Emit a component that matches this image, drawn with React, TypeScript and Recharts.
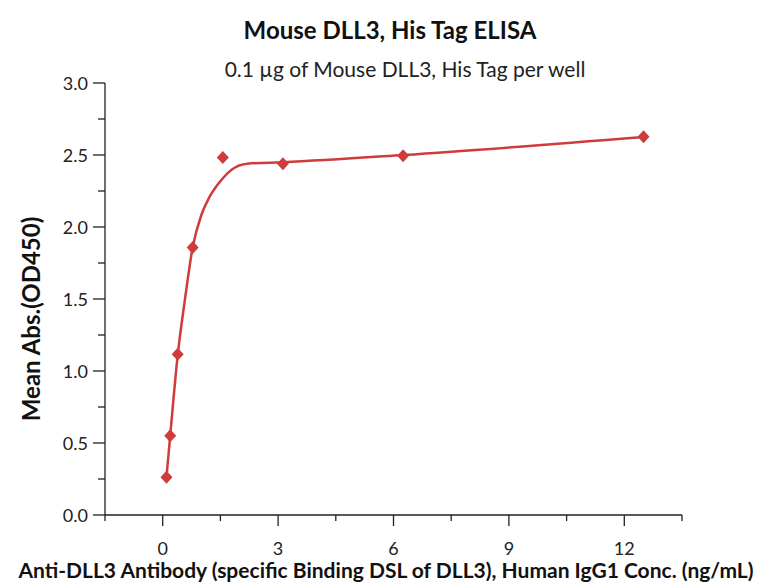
import React from "react";
import { ComposedChart, Line, Scatter, XAxis, YAxis } from "recharts";

// measured points (ng/mL, OD450)
const concs = [0.098, 0.195, 0.39, 0.78, 1.5625, 3.125, 6.25, 12.5];
const absorbance = [0.262, 0.551, 1.117, 1.858, 2.483, 2.439, 2.495, 2.627];

// fitted curve
const fitX = [0.098, 0.195, 0.39, 0.58, 0.78, 1.0, 1.2, 1.46, 1.8, 2.2, 3.125, 6.25, 12.5];
const fitY = [0.262, 0.55, 1.11, 1.5, 1.86, 2.08, 2.2, 2.305, 2.4, 2.44, 2.45, 2.5, 2.625];

const xTicks = [-1.5, 0, 1.5, 3, 4.5, 6, 7.5, 9, 10.5, 12, 13.5];
const xMajor = [0, 3, 6, 9, 12];
const yTicks = [0, 0.25, 0.5, 0.75, 1, 1.25, 1.5, 1.75, 2, 2.25, 2.5, 2.75, 3];
const yMajor = [0, 0.5, 1, 1.5, 2, 2.5, 3];

const RED = "#d03b3b";
const INK = "#222";
const FONT = "Lato, 'DejaVu Sans', sans-serif";

const points = concs.map((x, i) => ({ x, y: absorbance[i] }));
const curve = fitX.map((x, i) => ({ x, y: fitY[i] }));

const XTick = ({ x, y, payload }: any) => {
  const major = xMajor.includes(payload.value);
  return (
    <g>
      <line x1={x} x2={x} y1={y} y2={y + (major ? 11 : 6)} stroke={INK} strokeWidth={1.3} />
      {major && (
        <text x={x} y={y + 40} textAnchor="middle" fontSize={18} fill={INK} fontFamily={FONT}>
          {payload.value}
        </text>
      )}
    </g>
  );
};

const YTick = ({ x, y, payload }: any) => {
  const major = yMajor.includes(payload.value);
  return (
    <g>
      <line x1={x - (major ? 12 : 7)} x2={x} y1={y} y2={y} stroke={INK} strokeWidth={1.3} />
      {major && (
        <text x={x - 17} y={y + 6.5} textAnchor="end" fontSize={18} fill={INK} fontFamily={FONT}>
          {payload.value.toFixed(1)}
        </text>
      )}
    </g>
  );
};

const Diamond = ({ cx, cy }: any) => (
  <polygon
    points={`${cx},${cy - 6.5} ${cx + 6},${cy} ${cx},${cy + 6.5} ${cx - 6},${cy}`}
    fill={RED}
  />
);

export default function App() {
  return (
    <div style={{ position: "absolute", left: 0, top: 0, width: 766, height: 582, background: "#fff" }}>
      <ComposedChart width={766} height={582} margin={{ top: 83, right: 84, bottom: 37, left: 0 }}>
        <XAxis
          type="number"
          dataKey="x"
          domain={[-1.5, 13.5]}
          ticks={xTicks}
          interval={0}
          allowDataOverflow
          height={30}
          tickSize={0}
          tickMargin={0}
          tickLine={false}
          tick={<XTick />}
          axisLine={{ stroke: INK, strokeWidth: 1.3 }}
        />
        <YAxis
          type="number"
          dataKey="y"
          domain={[0, 3]}
          ticks={yTicks}
          interval={0}
          width={105}
          tickSize={0}
          tickMargin={0}
          tickLine={false}
          tick={<YTick />}
          axisLine={{ stroke: INK, strokeWidth: 1.3 }}
        />
        <Line
          data={curve}
          dataKey="y"
          type="monotone"
          stroke={RED}
          strokeWidth={2.5}
          dot={false}
          activeDot={false}
          isAnimationActive={false}
        />
        <Scatter data={points} dataKey="y" fill={RED} shape={<Diamond />} isAnimationActive={false} />
      </ComposedChart>
      <svg
        width={766}
        height={582}
        style={{ position: "absolute", left: 0, top: 0, pointerEvents: "none" }}
        fontFamily={FONT}
      >
        <text x={390} y={39} textAnchor="middle" fontSize={24} fontWeight="bold" fill="#111">
          Mouse DLL3, His Tag ELISA
        </text>
        <text x={405} y={77} textAnchor="middle" fontSize={21} fill="#222">
          0.1 µg of Mouse DLL3, His Tag per well
        </text>
        <text
          x={0}
          y={0}
          transform="translate(30,319) rotate(-90)"
          textAnchor="middle"
          dominantBaseline="central"
          fontSize={24}
          fontWeight="bold"
          fill="#111"
        >
          Mean Abs.(OD450)
        </text>
        <text x={386} y={578} textAnchor="middle" fontSize={21} fontWeight="bold" fill="#111">
          Anti-DLL3 Antibody (specific Binding DSL of DLL3), Human IgG1 Conc. (ng/mL)
        </text>
      </svg>
    </div>
  );
}
